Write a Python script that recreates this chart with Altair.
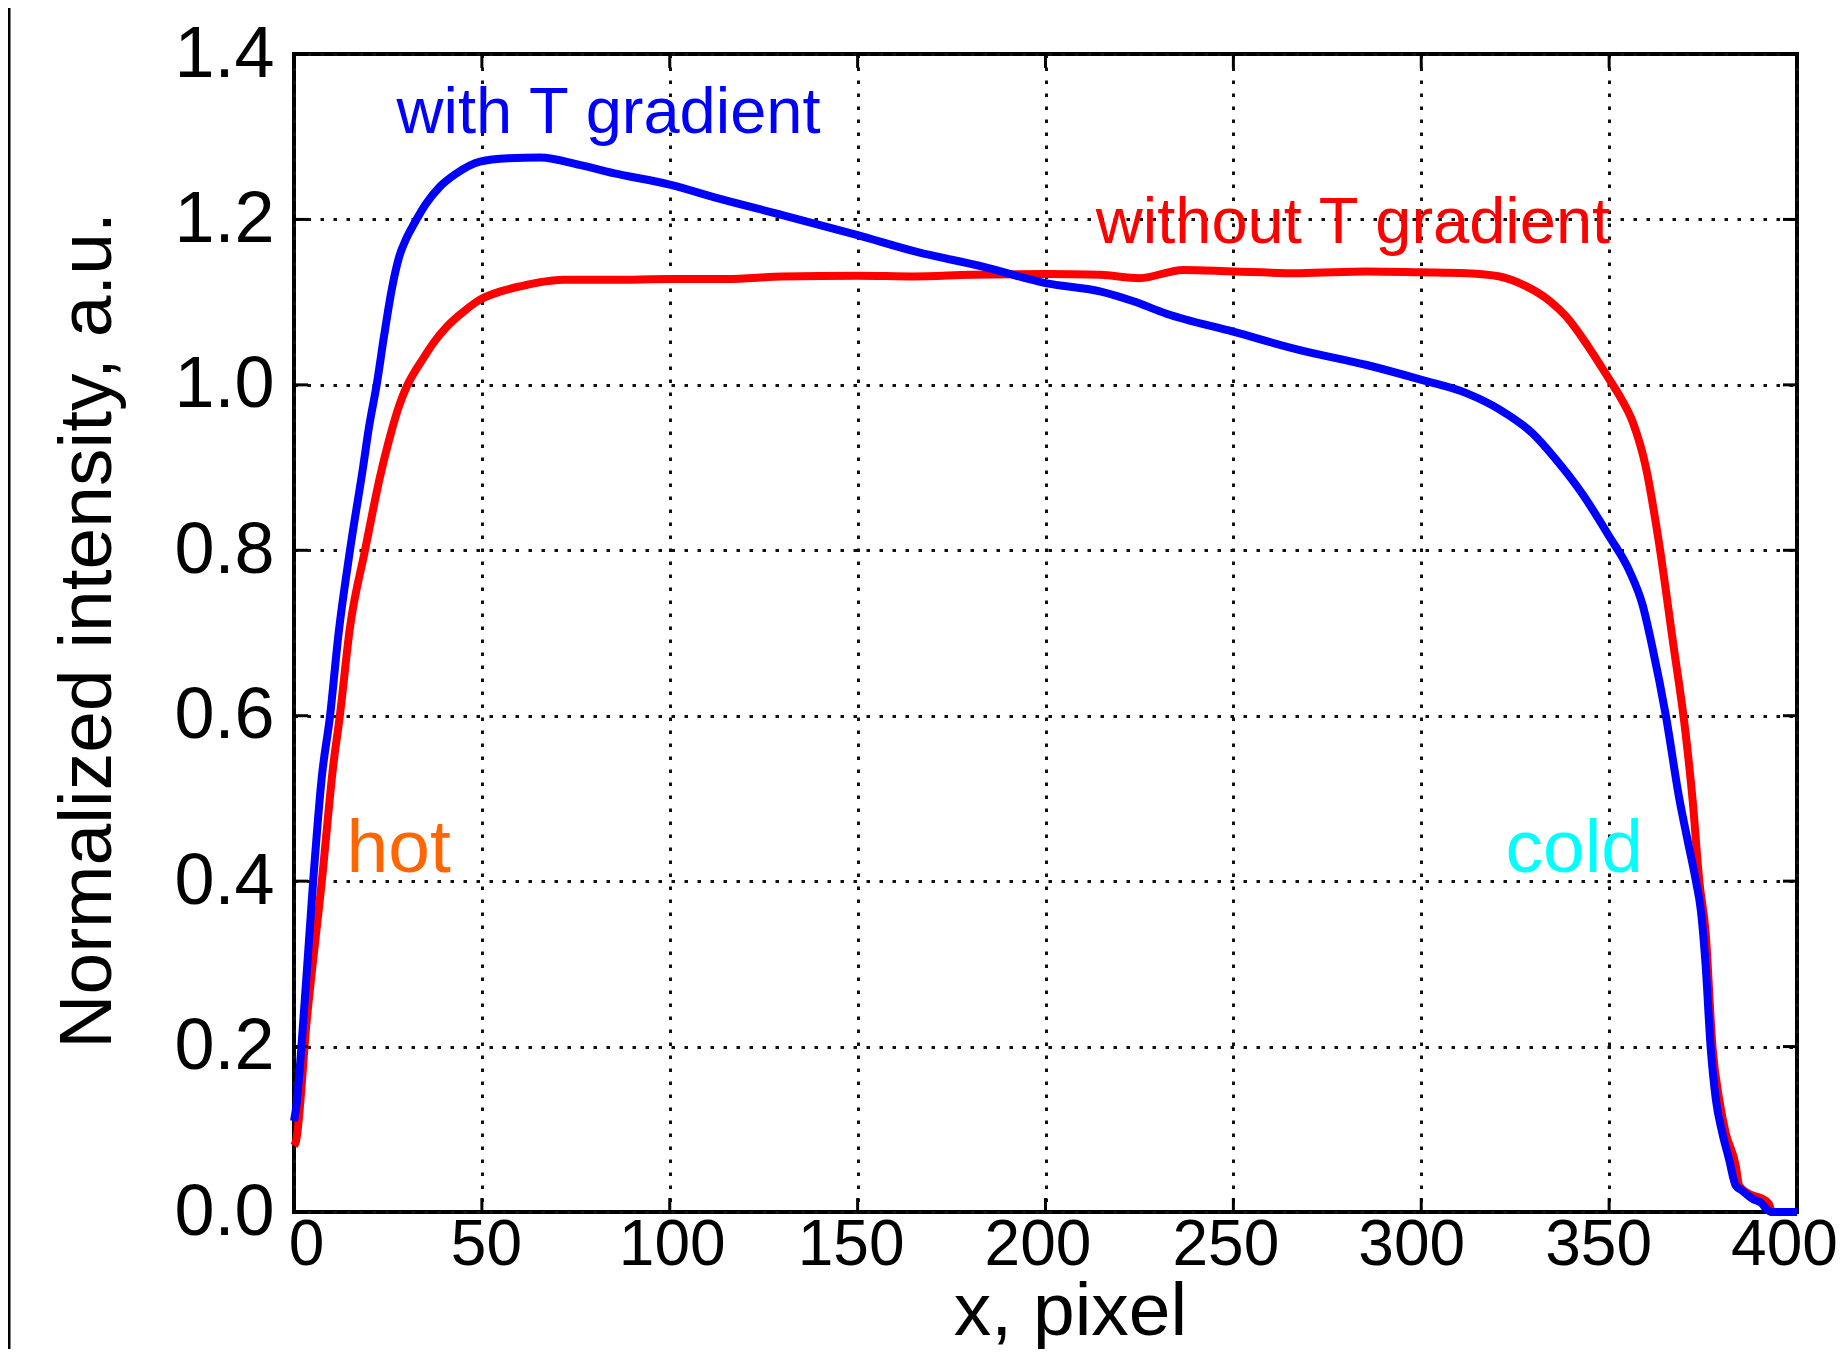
import altair as alt
import pandas as pd

# ---- data ----
blue_x = [0, 0.5, 2.9, 5.1, 7.4, 9.6, 11.8, 14.9, 18.4, 20.0, 22.0, 24.0, 26.0, 28.0, 30.0, 32.0, 35.0, 38.9, 43.0, 49.5, 57.0, 65.5,
          76.0, 85.0, 100.0, 112.4, 130.2, 150.0, 165.5, 183.3, 200.0, 214.5, 223.4, 232.2, 250.2, 267.7, 285.5, 300.1, 312.0, 320.9, 329.7, 335.8,
          342.9, 350.0, 355.3, 358.9, 361.5, 365.1, 368.7, 370.9, 373.1, 374.4, 375.7, 377.0, 378.4, 380.1, 381.9, 383.7, 385.4, 388.1, 390.7, 391.6,
          393.4, 400.0]
blue_y = [0.11, 0.124, 0.258, 0.40, 0.526, 0.60, 0.697, 0.80, 0.901, 0.95, 1.0, 1.06, 1.115, 1.155, 1.178, 1.195, 1.218, 1.24, 1.255, 1.270, 1.274, 1.275,
          1.266, 1.256, 1.242, 1.226, 1.205, 1.181, 1.161, 1.143, 1.123, 1.113, 1.101, 1.086, 1.064, 1.042, 1.024, 1.006, 0.990, 0.970, 0.941, 0.910,
          0.868, 0.817, 0.776, 0.734, 0.683, 0.600, 0.499, 0.449, 0.400, 0.365, 0.297, 0.200, 0.136, 0.096, 0.064, 0.032, 0.026, 0.016, 0.010, 0.005,
          0.0, 0.0]

red_x = [0, 0.5, 3.4, 7.4, 10.5, 12.2, 14.9, 18.9, 22.9, 26.0, 28.0, 30.0, 32.0, 34.4, 37.0, 40.6, 45.0, 49.5, 55.0, 60.1, 71.7, 85, 100, 115, 130,
         150, 165, 180, 200, 214.5, 225, 236.7, 250, 267.7, 285.5, 300, 312, 320.9, 328, 334.3, 338.5, 344.2, 350, 353, 356.2,
         359.8, 363.3, 366.9, 370.4, 372.2, 374, 375.7, 377.5, 379.3, 381, 383.7, 384.6, 387.2, 390.7, 392.5, 393.4, 400]
red_y = [0.08, 0.085, 0.232, 0.40, 0.542, 0.60, 0.707, 0.80, 0.889, 0.945, 0.975, 0.998, 1.015, 1.032, 1.05, 1.070, 1.088, 1.103, 1.113, 1.119, 1.127, 1.127, 1.128, 1.128, 1.131,
         1.132, 1.131, 1.133, 1.134, 1.133, 1.129, 1.139, 1.137, 1.135, 1.137, 1.136, 1.135, 1.131, 1.119, 1.101, 1.083, 1.048, 1.007, 0.985, 0.956,
         0.900, 0.808, 0.692, 0.577, 0.499, 0.400, 0.337, 0.200, 0.136, 0.096, 0.056, 0.032, 0.022, 0.016, 0.010, 0.0, 0.0]

x_ticks = [0, 50, 100, 150, 200, 250, 300, 350, 400]
y_ticks = [0.0, 0.2, 0.4, 0.6, 0.8, 1.0, 1.2, 1.4]

ann_text = ["with T gradient", "without T gradient", "hot", "cold"]
ann_x = [27.3, 213.4, 14.0, 322.4]
ann_y = [1.304, 1.171, 0.411, 0.411]

x_title = "x, pixel"
y_title = "Normalized intensity, a.u."

# ---- styling ----
W, H = 1503, 1158
FONT = "Liberation Sans"
TICK = 14

xscale = alt.Scale(domain=[0, 400], nice=False, zero=False)
yscale = alt.Scale(domain=[0, 1.4], nice=False, zero=False)

x_offsets = {0: 12, 50: 4, 100: 2, 150: -7, 200: -8, 250: -8, 300: -10, 350: -11, 400: -13}

grid_style = dict(grid=True, gridDash=[3.5, 9.5], gridColor="#111111", gridWidth=3, gridOpacity=1)

x_axis = alt.Axis(
    values=x_ticks, format="d", **grid_style,
    domain=False, ticks=False, tickSize=0,
    labelFont=FONT, labelFontSize=64, labelColor="black", labelPadding=52, labelBaseline="alphabetic",
    labelFlush=False, labelOverlap=False,
    labelOffset={"condition": [{"test": f"datum.value == {k}", "value": v} for k, v in x_offsets.items()], "value": 0},
    title=x_title, titleFont=FONT, titleFontSize=75, titleFontWeight="normal", titleColor="black",
    titleX=776, titleY=122, titleAlign="center", titleBaseline="alphabetic",
)
y_axis = alt.Axis(
    values=y_ticks, format=".1f", **grid_style,
    domain=False, ticks=False, tickSize=0,
    labelFont=FONT, labelFontSize=72, labelColor="black", labelPadding=20, labelBaseline="middle",
    labelFlush=False, labelOverlap=False,
    title=y_title, titleFont=FONT, titleFontSize=75, titleFontWeight="normal", titleColor="black",
    titleX=-184, titleY=576, titleAngle=270, titleAlign="center", titleBaseline="alphabetic",
)

df_blue = pd.DataFrame({"x": blue_x, "y": blue_y})
df_red = pd.DataFrame({"x": red_x, "y": red_y})
df_xt = pd.DataFrame({"x": x_ticks})
df_yt = pd.DataFrame({"y": y_ticks})

X = alt.X("x:Q", scale=xscale, axis=x_axis)
Y = alt.Y("y:Q", scale=yscale, axis=y_axis)

red_line = alt.Chart(df_red).mark_line(color="#ff0000", strokeWidth=8, interpolate="monotone").encode(x=X, y=Y)
blue_line = alt.Chart(df_blue).mark_line(color="#0000ff", strokeWidth=8, interpolate="monotone").encode(x=X, y=Y)

tick_style = dict(color="black", strokeWidth=3)
xt_bottom = alt.Chart(df_xt).mark_rule(**tick_style).encode(x=X, y=alt.value(H), y2=alt.value(H - TICK))
xt_top = alt.Chart(df_xt).mark_rule(**tick_style).encode(x=X, y=alt.value(0), y2=alt.value(TICK))
yt_left = alt.Chart(df_yt).mark_rule(**tick_style).encode(y=Y, x=alt.value(0), x2=alt.value(TICK))
yt_right = alt.Chart(df_yt).mark_rule(**tick_style).encode(y=Y, x=alt.value(W), x2=alt.value(W - TICK))

ann_colors = ["#0000ff", "#ff0000", "#ff6600", "#00ffff"]
ann_sizes = [65, 65, 75, 75]
texts = []
for t, xv, yv, c, s in zip(ann_text, ann_x, ann_y, ann_colors, ann_sizes):
    texts.append(
        alt.Chart(pd.DataFrame({"x": [xv], "y": [yv], "t": [t]})).mark_text(
            align="left", baseline="alphabetic", font=FONT, fontSize=s, color=c
        ).encode(x=X, y=Y, text="t:N")
    )

# thin border line at the far left of the original picture
edge = alt.Chart(pd.DataFrame({"a": [0]})).mark_rule(color="black", strokeWidth=3).encode(
    x=alt.value(-285), y=alt.value(-46), y2=alt.value(H + 137))

chart = alt.layer(
    red_line, xt_bottom, xt_top, yt_left, yt_right, blue_line, *texts, edge
).properties(
    width=W, height=H,
    autosize=alt.AutoSizeParams(type="none"),
    padding={"left": 286, "top": 46, "right": 40, "bottom": 137},
).configure(background="white").configure_view(stroke="black", strokeWidth=4)

chart.save("out.html", embed_options={"renderer": "svg", "actions": False})
